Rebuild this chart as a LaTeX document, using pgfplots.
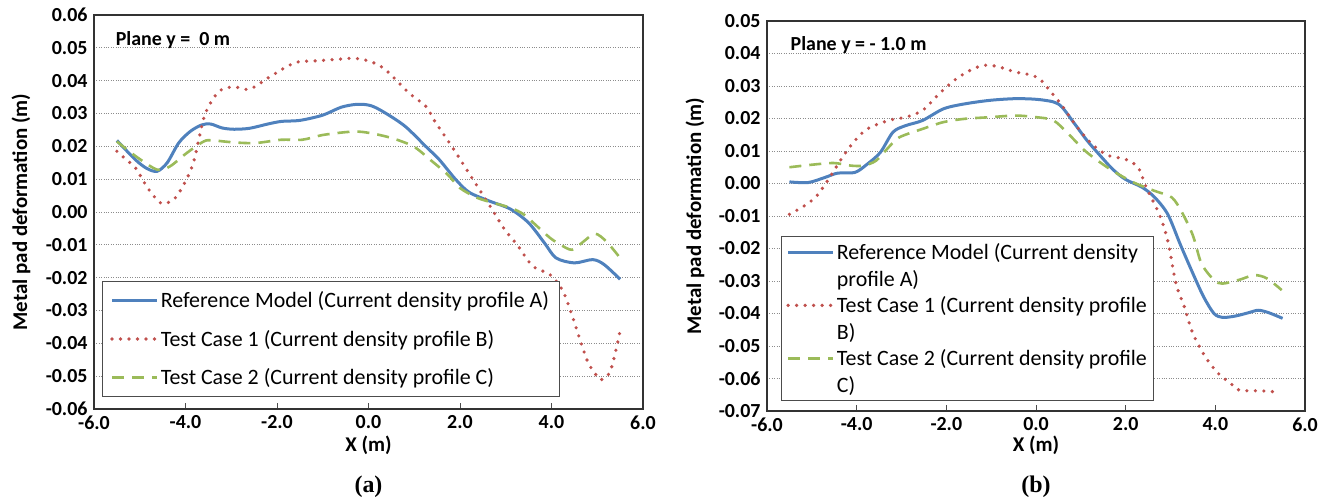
\documentclass[border=0pt]{standalone}
\usepackage{pgfplots}
\pgfplotsset{compat=1.18}
\usetikzlibrary{calc}
\usepackage{fontspec}
\setmainfont{Carlito}
\newfontfamily\timesf{Liberation Serif}
\definecolor{cblue}{HTML}{4F81BD}
\definecolor{cred}{HTML}{C0504D}
\definecolor{cgreen}{HTML}{9BBB59}
\pgfplotsset{
  myaxis/.style={
    scale only axis,
    anchor=south west,
    xmin=-6, xmax=6,
    xtick={-6,-4,...,6},
    xtick pos=left,
    tick align=inside,
    major tick length=6bp,
    scaled y ticks=false,
    scaled x ticks=false,
    ytick style={draw=none},
    xtick style={draw=black!70, line width=0.8bp},
    ymajorgrids,
    grid style={dotted, black!45, line width=0.8bp},
    axis line style={draw=black!80, line width=1.4bp},
    /pgf/number format/assume math mode=true,
    ticklabel style={font=\bfseries\fontsize{20}{23}\selectfont},
    xticklabel style={yshift=-3bp, /pgf/number format/fixed, /pgf/number format/fixed zerofill, /pgf/number format/precision=1},
    yticklabel style={xshift=-3bp, /pgf/number format/fixed, /pgf/number format/fixed zerofill, /pgf/number format/precision=2},
    xlabel={X (m)},
    ylabel={Metal pad deformation (m)},
    label style={font=\bfseries\fontsize{21}{24}\selectfont},
    legend style={draw=black!70, line width=0.9bp, fill=white, inner sep=5bp,
      font=\fontsize{22}{25}\selectfont, cells={anchor=west}},
    legend image code/.code={\draw[#1] (0bp,0bp) -- (45bp,0bp);},
  },
  bl/.style={color=cblue, line width=3bp, smooth},
  rd/.style={color=cred, line width=3.6bp, line cap=round, dash pattern=on 0bp off 8.5bp, smooth},
  gr/.style={color=cgreen, line width=2.6bp, dash pattern=on 12bp off 8bp, smooth},
}
\begin{document}
\begin{tikzpicture}
\path[use as bounding box] (0,0) rectangle (1328bp,501bp);
% ---------------- (a)
\begin{axis}[myaxis, name=axa,
  at={(94bp,92bp)}, width=549bp, height=394bp,
  ymin=-0.06, ymax=0.06, ytick={-0.06,-0.05,...,0.06},
  xlabel style={at={(axis description cs:0.5,-0.092)}, anchor=center},
  ylabel style={at={(axis description cs:-0.133,0.5)}, anchor=center},
  legend style={at={(axis cs:-5.83,-0.0211)}, anchor=north west, row sep=17bp, inner sep=8bp},
]
\addlegendimage{bl}\addlegendentry{Reference Model (Current density profile A)}
\addlegendimage{rd}\addlegendentry{Test Case 1 (Current density profile B)}
\addlegendimage{gr}\addlegendentry{Test Case 2 (Current density profile C)}
\addplot[bl, forget plot] coordinates {
(-5.5,0.0218) (-5.1,0.0160) (-4.85,0.0133) (-4.62,0.0124) (-4.4,0.0150) (-4.15,0.0210)
(-3.9,0.0245) (-3.65,0.0265) (-3.45,0.0268) (-3.2,0.0256) (-2.94,0.0252) (-2.6,0.0255)
(-2.2,0.0268) (-1.9,0.0276) (-1.5,0.0279) (-1.0,0.0295) (-0.6,0.0319) (-0.25,0.0328)
(0.05,0.0324) (0.35,0.0303) (0.8,0.0261) (1.25,0.0200) (1.55,0.0159) (1.9,0.0100)
(2.2,0.0060) (2.65,0.0033) (3.1,0.0009) (3.5,-0.0033) (3.85,-0.0095) (4.1,-0.0140)
(4.5,-0.0155) (4.9,-0.0145) (5.15,-0.0160) (5.5,-0.0205)};
\addplot[rd, forget plot] coordinates {
(-5.5,0.0185) (-5.3,0.0160) (-5.09,0.0134) (-4.85,0.0078) (-4.62,0.0037) (-4.48,0.0025)
(-4.25,0.0039) (-4.06,0.0078) (-3.83,0.0149) (-3.6,0.0286) (-3.41,0.0342) (-3.22,0.0372)
(-2.94,0.0381) (-2.6,0.0374) (-2.2,0.0408) (-1.82,0.0440) (-1.54,0.0457) (-1.07,0.0461)
(-0.6,0.0466) (-0.28,0.0468) (0.05,0.0458) (0.33,0.0438) (0.56,0.0408) (0.89,0.0362)
(1.26,0.0321) (1.45,0.0276) (1.82,0.0200) (2.1,0.0139) (2.38,0.0078) (2.66,0.0017)
(2.98,-0.0054) (3.25,-0.0100) (3.59,-0.0165) (3.96,-0.0190) (4.24,-0.0238) (4.43,-0.0307)
(4.62,-0.0388) (4.8,-0.0459) (4.99,-0.0499) (5.08,-0.0511) (5.27,-0.0490) (5.41,-0.0420)
(5.5,-0.0360)};
\addplot[gr, forget plot] coordinates {
(-5.5,0.0215) (-5.09,0.0170) (-4.62,0.0129) (-4.34,0.0139) (-3.97,0.0180) (-3.6,0.0215)
(-3.41,0.0218) (-2.94,0.0212) (-2.47,0.0210) (-1.91,0.0220) (-1.45,0.0220) (-0.98,0.0235)
(-0.33,0.0245) (0.05,0.0240) (0.51,0.0225) (0.98,0.0200) (1.35,0.0159) (1.73,0.0114)
(2.0,0.0073) (2.38,0.0043) (2.75,0.0027) (3.12,0.0012) (3.4,-0.0008) (3.69,-0.0044)
(3.97,-0.0079) (4.2,-0.0100) (4.45,-0.0115) (4.7,-0.0090) (4.95,-0.0066) (5.2,-0.0090)
(5.5,-0.0140)};
\node[anchor=west, font=\bfseries\fontsize{20}{24}\selectfont] at (axis cs:-5.6,0.0524) {Plane y =\ \ 0 m};
\end{axis}
\node[font=\timesf\bfseries\fontsize{24}{28}\selectfont] at ($(axa.south)+(0,-78bp)$) {(a)};
% ---------------- (b)
\begin{axis}[myaxis, name=axb,
  at={(767bp,90bp)}, width=538bp, height=390bp,
  ymin=-0.07, ymax=0.05, ytick={-0.07,-0.06,...,0.05},
  xlabel style={at={(axis description cs:0.5,-0.087)}, anchor=center},
  ylabel style={at={(axis description cs:-0.134,0.5)}, anchor=center},
  legend style={at={(axis cs:-5.69,-0.0162)}, anchor=north west, row sep=5bp},
]
\addlegendimage{bl}\addlegendentry{Reference Model (Current density}
\addlegendimage{empty legend}\addlegendentry{profile A)}
\addlegendimage{rd}\addlegendentry{Test Case 1 (Current density profile}
\addlegendimage{empty legend}\addlegendentry{B)}
\addlegendimage{gr}\addlegendentry{Test Case 2 (Current density profile}
\addlegendimage{empty legend}\addlegendentry{C)}
\addplot[bl, forget plot] coordinates {
(-5.5,0.0005) (-5.08,0.0003) (-4.7,0.0019) (-4.42,0.0032) (-4.04,0.0034) (-3.76,0.0060)
(-3.47,0.0096) (-3.19,0.0158) (-2.91,0.0178) (-2.53,0.0194) (-2.06,0.0230) (-1.59,0.0245)
(-1.02,0.0256) (-0.46,0.0261) (0.01,0.0259) (0.39,0.0251) (0.58,0.0235) (0.86,0.0184)
(1.14,0.0132) (1.43,0.0086) (1.71,0.0044) (1.99,0.0013) (2.37,-0.0012) (2.65,-0.0043)
(2.94,-0.0095) (3.22,-0.0188) (3.5,-0.0277) (3.74,-0.0349) (3.97,-0.0400) (4.16,-0.0412)
(4.44,-0.0408) (4.73,-0.0398) (4.96,-0.0390) (5.2,-0.0398) (5.5,-0.0415)};
\addplot[rd, forget plot] coordinates {
(-5.5,-0.0095) (-5.17,-0.0069) (-4.89,-0.0038) (-4.6,0.0019) (-4.32,0.0080) (-4.04,0.0132)
(-3.76,0.0168) (-3.29,0.0194) (-2.91,0.0204) (-2.53,0.0225) (-2.16,0.0276) (-1.78,0.0322)
(-1.4,0.0353) (-1.12,0.0364) (-0.83,0.0359) (-0.46,0.0343) (-0.08,0.0333) (0.11,0.0318)
(0.3,0.0287) (0.58,0.0240) (0.86,0.0184) (1.24,0.0122) (1.61,0.0086) (1.99,0.0075)
(2.28,0.0049) (2.46,-0.0012) (2.75,-0.0095) (2.94,-0.0177) (3.12,-0.0307) (3.31,-0.0380)
(3.5,-0.0462) (3.78,-0.0534) (4.07,-0.0585) (4.35,-0.0616) (4.54,-0.0636) (5.01,-0.0638)
(5.34,-0.0641)};
\addplot[gr, forget plot] coordinates {
(-5.5,0.0050) (-4.98,0.0058) (-4.51,0.0063) (-4.13,0.0055) (-3.85,0.0055) (-3.57,0.0070)
(-3.29,0.0111) (-3.05,0.0142) (-2.53,0.0168) (-2.06,0.0189) (-1.59,0.0199) (-1.02,0.0204)
(-0.46,0.0209) (0.01,0.0204) (0.39,0.0194) (0.72,0.0153) (1.05,0.0106) (1.33,0.0075)
(1.71,0.0039) (2.18,0.0003) (2.65,-0.0023) (3.03,-0.0043) (3.26,-0.0090) (3.5,-0.0160)
(3.69,-0.0246) (3.97,-0.0297) (4.16,-0.0308) (4.54,-0.0296) (4.87,-0.0282) (5.15,-0.0292)
(5.48,-0.0328)};
\node[anchor=west, font=\bfseries\fontsize{20}{24}\selectfont] at (axis cs:-5.55,0.0426) {Plane y = - 1.0 m};
\end{axis}
\node[font=\timesf\bfseries\fontsize{24}{28}\selectfont] at ($(axb.south)+(0,-76bp)$) {(b)};
\end{tikzpicture}
\end{document}
